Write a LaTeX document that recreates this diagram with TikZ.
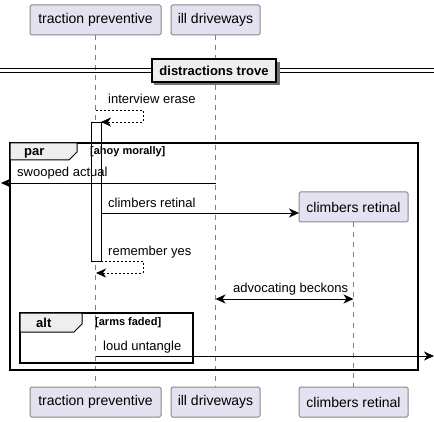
\documentclass[tikz,border=0pt]{standalone}
\usepackage{fontspec}
\setmainfont{Liberation Sans}
\usetikzlibrary{arrows.meta}
\definecolor{partfill}{HTML}{E2E2F0}
\definecolor{partdraw}{HTML}{888888}
\definecolor{tabfill}{HTML}{EEEEEE}
\definecolor{lifegray}{HTML}{808080}
\begin{document}
\begin{tikzpicture}[x=1pt,y=-1pt,
  partbox/.style={draw=partdraw,line width=1pt,fill=partfill,rounded corners=1.5pt,minimum height=30pt,inner sep=0pt,font=\fontsize{14}{16}\selectfont},
  lifeline/.style={draw=lifegray,dash pattern=on 5pt off 5pt,line width=0.6pt},
  msgarrow/.style={line width=0.8pt,-{Stealth[length=10pt,width=9pt,inset=3pt]}},
  retarrow/.style={msgarrow,dash pattern=on 2pt off 2pt},
  msglabel/.style={anchor=base west,inner sep=0pt,font=\fontsize{13}{15}\selectfont},
  framebox/.style={draw,line width=1.5pt},
  tabshape/.style={draw,fill=tabfill,line width=1pt},
  tabtxt/.style={anchor=base west,inner sep=0pt,font=\bfseries\fontsize{13}{15}\selectfont},
  guardtxt/.style={anchor=base west,inner sep=0pt,font=\bfseries\fontsize{11}{13}\selectfont}]
\useasboundingbox (0,0) rectangle (434,422);
% participants
\node[partbox,minimum width=131pt] (tp1) at (95.5,20) {traction preventive};
\node[partbox,minimum width=89pt] (il1) at (215.5,20) {ill driveways};
\node[partbox,minimum width=131pt] (tp2) at (95.5,402) {traction preventive};
\node[partbox,minimum width=89pt] (il2) at (215.5,402) {ill driveways};
\node[partbox,minimum width=109pt] (cr2) at (353.5,402) {climbers retinal};
% lifelines
\draw[lifeline] (tp1.south) -- (tp2.north);
\draw[lifeline] (il1.south) -- (il2.north);
% activation
\draw[line width=0.8pt,fill=white] (91,122) rectangle (101,261);
% divider
\draw[line width=0.8pt] (0,68) -- (434,68) (0,72) -- (434,72);
\fill[black!55] (154,62) rectangle (279.5,85.5);
\node[draw,fill=tabfill,line width=1.5pt,minimum width=124pt,minimum height=23pt,inner sep=0pt,font=\bfseries\fontsize{13}{15}\selectfont] (div) at (214,70.5) {distractions trove};
\coordinate (a1) at (96,110);
\coordinate (a2) at (143,110);
\coordinate (a3) at (143,122);
\coordinate (a4) at (101,122);
\draw[retarrow] (a1) -- (a2) -- (a3) -- (a4);
\node[msglabel] (l1) at (108,104) {interview erase};
% par frame
\draw[framebox] (10,143) rectangle (418,370);
\draw[tabshape] (10,143) -- (77,143) -- (77,152) -- (69,160) -- (10,160) -- cycle;
\node[tabtxt] (partxt) at (24,156) {par};
\node[guardtxt] (parg) at (90,155) {[ahoy morally]};
% swooped actual
\coordinate (s1) at (215.5,183);
\coordinate (s2) at (1,183);
\draw[msgarrow] (s1) -- (s2);
\node[msglabel] (l2) at (17,177) {swooped actual};
% climbers retinal creation
\node[partbox,minimum width=109pt] (cr1) at (353.5,207) {climbers retinal};
\draw[lifeline] (cr1.south) -- (cr2.north);
\coordinate (c1) at (101,213);
\coordinate (c2) at (299,213);
\draw[msgarrow] (c1) -- (c2);
\node[msglabel] (l3) at (108,208) {climbers retinal};
% remember yes
\coordinate (r1) at (101,261);
\coordinate (r2) at (143,261);
\coordinate (r3) at (143,273);
\coordinate (r4) at (96,273);
\draw[retarrow] (r1) -- (r2) -- (r3) -- (r4);
\node[msglabel] (l4) at (108,256) {remember yes};
% advocating beckons
\coordinate (v1) at (215.5,299);
\coordinate (v2) at (353.5,299);
\draw[msgarrow,{Stealth[length=10pt,width=9pt,inset=3pt]}-{Stealth[length=10pt,width=9pt,inset=3pt]}] (v1) -- (v2);
\node[msglabel] (l5) at (233,293) {advocating beckons};
% alt frame
\draw[framebox] (20,313) rectangle (193,363);
\draw[tabshape] (20,313) -- (82,313) -- (82,324) -- (74,332) -- (20,332) -- cycle;
\node[tabtxt] (alttxt) at (36,327) {alt};
\node[guardtxt] (altg) at (95,326) {[arms faded]};
% loud untangle
\coordinate (u1) at (96,356);
\coordinate (u2) at (434,356);
\draw[msgarrow] (u1) -- (u2);
\node[msglabel] (l6) at (103,350) {loud untangle};
\end{tikzpicture}
\end{document}
